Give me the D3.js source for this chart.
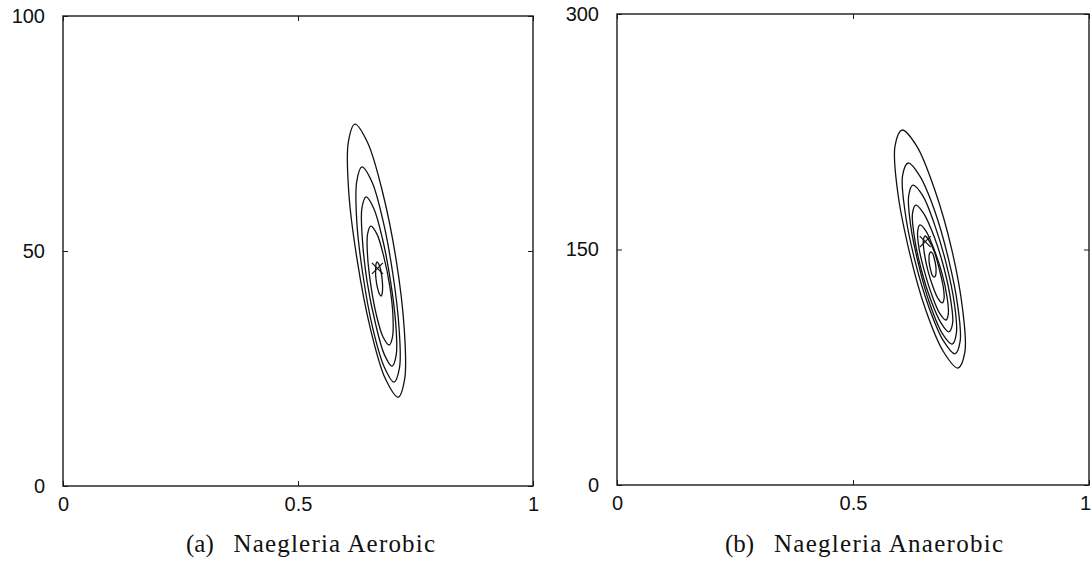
<!DOCTYPE html>
<meta charset="utf-8">
<style>

body { margin: 0; background: #fff; }

.frame {
  fill: none;
  stroke: #1a1a1a;
  stroke-width: 1.4px;
}

.contour {
  fill: none;
  stroke: #111;
  stroke-width: 1.3px;
}

.peak {
  fill: none;
  stroke: #111;
  stroke-width: 1.2px;
}

.axis text {
  font-family: "Liberation Sans", Arial, sans-serif;
  font-size: 20px;
  fill: #111;
}

.axis line { stroke: #1a1a1a; stroke-width: 1px; }
.axis path { display: none; }

.caption {
  font-family: "Liberation Serif", "Times New Roman", serif;
  font-size: 25px;
  fill: #111;
}

</style>
<svg width="1091" height="565"></svg>
<script src="https://d3js.org/d3.v7.min.js"></script>
<script>

// tick values
var xTicks = [0, 0.5, 1];
var aeroYTicks = [0, 50, 100];
var anaeroYTicks = [0, 150, 300];

// maximum likelihood points (the x marks)
var aeroPeak = [0.669, 46.3];
var anaeroPeak = [0.653, 155.0];

// likelihood contours, outermost first
var aeroContours = [
  [[.621,77.0],[.648,73.1],[.680,62.5],[.709,48.0],[.726,33.5],[.727,22.8],[.713,18.9],[.686,22.8],[.654,33.5],[.626,48.0],[.608,62.5],[.607,73.1]],
  [[.636,67.9],[.657,64.8],[.681,56.4],[.702,45.0],[.715,33.6],[.716,25.2],[.704,22.1],[.684,25.2],[.659,33.6],[.638,45.0],[.625,56.4],[.625,64.8]],
  [[.645,61.5],[.661,59.1],[.680,52.5],[.697,43.5],[.708,34.5],[.709,27.9],[.700,25.5],[.684,27.9],[.665,34.5],[.647,43.5],[.637,52.5],[.636,59.1]],
  [[.655,55.3],[.668,53.6],[.682,49.0],[.695,42.7],[.702,36.3],[.701,31.7],[.694,30.0],[.681,31.7],[.667,36.3],[.655,42.7],[.648,49.0],[.648,53.6]],
  [[.668,47.7],[.672,47.2],[.676,45.9],[.679,44.0],[.680,42.2],[.679,40.9],[.677,40.4],[.673,40.9],[.669,42.2],[.666,44.0],[.665,45.9],[.666,47.2]]
];

var anaeroContours = [
  [[.604,226.1],[.635,215.9],[.673,188.2],[.709,150.3],[.732,112.4],[.737,84.7],[.722,74.5],[.692,84.7],[.653,112.4],[.618,150.3],[.594,188.2],[.589,215.9]],
  [[.617,205.1],[.641,197.0],[.673,174.7],[.702,144.3],[.722,113.9],[.727,91.6],[.716,83.5],[.692,91.6],[.660,113.9],[.630,144.3],[.610,174.7],[.605,197.0]],
  [[.627,191.0],[.648,184.2],[.673,165.7],[.698,140.4],[.715,115.1],[.719,96.6],[.710,89.8],[.689,96.6],[.663,115.1],[.639,140.4],[.622,165.7],[.618,184.2]],
  [[.633,178.3],[.650,172.9],[.672,158.1],[.693,137.9],[.707,117.7],[.711,102.9],[.703,97.5],[.687,102.9],[.665,117.7],[.644,137.9],[.630,158.1],[.626,172.9]],
  [[.642,165.7],[.655,161.6],[.671,150.6],[.688,135.4],[.699,120.2],[.702,109.2],[.697,105.1],[.684,109.2],[.668,120.2],[.652,135.4],[.640,150.6],[.637,161.6]],
  [[.653,158.6],[.661,155.7],[.673,148.0],[.683,137.3],[.691,126.6],[.693,118.9],[.689,116.0],[.680,118.9],[.669,126.6],[.658,137.3],[.651,148.0],[.649,155.7]],
  [[.665,148.4],[.669,147.3],[.672,144.4],[.675,140.4],[.676,136.4],[.675,133.5],[.672,132.4],[.668,133.5],[.665,136.4],[.662,140.4],[.661,144.4],[.662,147.3]]
];

var tags = ["(a)", "(b)"];
var titles = ["Naegleria Aerobic", "Naegleria Anaerobic"];

var svg = d3.select("svg");

drawPanel({ x0: 63, x1: 533, y0: 486, y1: 16 }, aeroYTicks, aeroContours, aeroPeak,
  { tagX: 186, textX: 233.5, len: 201.5 }, tags[0], titles[0]);
drawPanel({ x0: 617, x1: 1089, y0: 485, y1: 14 }, anaeroYTicks, anaeroContours, anaeroPeak,
  { tagX: 725, textX: 774, len: 229 }, tags[1], titles[1]);

// the last "1" sits on the page edge; pull it in so it is not clipped
svg.selectAll(".xaxis .tick text")
    .filter(function() { return this.getBBox && this.getCTM && (this.getCTM().e + this.getBBox().x + this.getBBox().width) > 1090; })
    .attr("dx", -4);

function drawPanel(box, yTicks, contours, peak, cap, tag, title) {
  var x = d3.scaleLinear().domain([0, 1]).range([box.x0, box.x1]);
  var y = d3.scaleLinear().domain([yTicks[0], yTicks[yTicks.length - 1]]).range([box.y0, box.y1]);

  var g = svg.append("g");

  g.append("g")
      .attr("class", "axis xaxis")
      .attr("transform", "translate(0," + box.y0 + ")")
      .call(d3.axisBottom(x).tickValues(xTicks).tickFormat(d3.format("")).tickSizeInner(-5).tickSizeOuter(0).tickPadding(11));

  g.append("g")
      .attr("class", "axis")
      .attr("transform", "translate(0," + box.y1 + ")")
      .call(d3.axisTop(x).tickValues(xTicks).tickFormat("").tickSizeInner(-5).tickSizeOuter(0));

  g.append("g")
      .attr("class", "axis")
      .attr("transform", "translate(" + box.x0 + ",0)")
      .call(d3.axisLeft(y).tickValues(yTicks).tickFormat(d3.format("")).tickSizeInner(-5).tickSizeOuter(0).tickPadding(18));

  g.append("g")
      .attr("class", "axis")
      .attr("transform", "translate(" + box.x1 + ",0)")
      .call(d3.axisRight(y).tickValues(yTicks).tickFormat("").tickSizeInner(-5).tickSizeOuter(0));

  g.append("rect")
      .attr("class", "frame")
      .attr("x", box.x0)
      .attr("y", box.y1)
      .attr("width", box.x1 - box.x0)
      .attr("height", box.y0 - box.y1);

  var line = d3.line()
      .x(function(d) { return x(d[0]); })
      .y(function(d) { return y(d[1]); })
      .curve(d3.curveCatmullRomClosed.alpha(0.5));

  g.selectAll(".contour")
      .data(contours)
      .enter().append("path")
      .attr("class", "contour")
      .attr("d", line);

  g.append("path")
      .attr("class", "peak")
      .attr("transform", "translate(" + x(peak[0]) + "," + y(peak[1]) + ")")
      .attr("d", d3.symbol(d3.symbolX, 80)());

  var t = g.append("text")
      .attr("class", "caption")
      .attr("y", 552);
  t.append("tspan")
      .attr("x", cap.tagX)
      .text(tag);
  t.append("tspan")
      .attr("x", cap.textX)
      .attr("textLength", cap.len)
      .attr("lengthAdjust", "spacing")
      .text(title);
}

</script>
